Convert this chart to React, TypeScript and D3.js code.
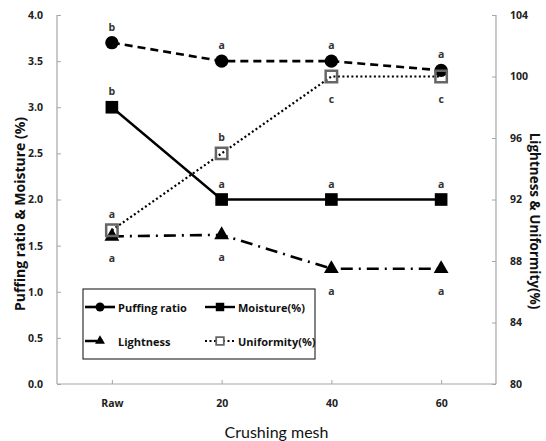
import React, { useEffect, useRef } from 'react';
import * as d3 from 'd3';

const categories = ['Raw', '20', '40', '60'];
const puffingRatio = [3.7, 3.5, 3.5, 3.4];
const moisture = [3.0, 2.0, 2.0, 2.0];
const lightness = [89.6, 89.7, 87.5, 87.5];
const uniformity = [90, 95, 100, 100];

const puffingLetters = ['b', 'a', 'a', 'a'];
const moistureLetters = ['b', 'a', 'a', 'a'];
const lightnessLetters = ['a', 'a', 'a', 'a'];
const uniformityLetters = ['a', 'b', 'c', 'c'];
const uniformityLetterSide = ['above', 'above', 'below', 'below'];

const leftTicks = [0, 0.5, 1.0, 1.5, 2.0, 2.5, 3.0, 3.5, 4.0];
const rightTicks = [80, 84, 88, 92, 96, 100, 104];

const FONT = 'Lato, "Open Sans", sans-serif';
const BOLD_FONT = '"Open Sans", Lato, sans-serif';

const App: React.FC = () => {
  const svgRef = useRef<SVGSVGElement>(null);

  useEffect(() => {
    if (!svgRef.current) return;
    const svg = d3.select(svgRef.current);
    svg.selectAll('*').remove();

    const margin = { top: 15, right: 50, bottom: 57, left: 57 };
    const width = 546;
    const height = 441;

    const x = d3.scalePoint<string>()
      .domain(categories)
      .range([margin.left, width - margin.right])
      .padding(0.5);
    const yL = d3.scaleLinear().domain([0, 4]).range([height - margin.bottom, margin.top]);
    const yR = d3.scaleLinear().domain([80, 104]).range([height - margin.bottom, margin.top]);

    const axisColor = '#a6a6a6';

    // Axes
    const left = svg.append('g')
      .attr('transform', `translate(${margin.left},0)`)
      .call(d3.axisLeft(yL).tickValues(leftTicks).tickSize(-4).tickPadding(14).tickFormat(d3.format('.1f')));
    const right = svg.append('g')
      .attr('transform', `translate(${width - margin.right},0)`)
      .call(d3.axisRight(yR).tickValues(rightTicks).tickSize(-4).tickPadding(14));
    const bottom = svg.append('g')
      .attr('transform', `translate(0,${height - margin.bottom})`)
      .call(d3.axisBottom(x).tickSize(-4).tickPadding(16));

    [left, right, bottom].forEach(g => {
      g.select('.domain').attr('stroke', axisColor).attr('stroke-width', 1.2);
      g.selectAll('.tick line').attr('stroke', axisColor);
      g.selectAll('text')
        .attr('fill', '#222')
        .style('font-family', BOLD_FONT)
        .style('font-size', '10.5px')
        .style('font-weight', 'bold');
    });
    bottom.select('.domain').attr('d', `M${margin.left},0H${width - margin.right}`);
    left.select('.domain').attr('d', `M0,${yL(4)}V${yL(0)}`);
    right.select('.domain').attr('d', `M0,${yR(104)}V${yR(80)}`);

    // Axis titles
    svg.append('text')
      .attr('transform', `translate(25,214) rotate(-90)`)
      .attr('text-anchor', 'middle')
      .style('font-family', BOLD_FONT)
      .style('font-size', '14px')
      .style('font-weight', 'bold')
      .attr('fill', '#111')
      .text('Puffing ratio & Moisture (%)');
    svg.append('text')
      .attr('transform', `translate(530,221) rotate(90)`)
      .attr('text-anchor', 'middle')
      .style('font-family', BOLD_FONT)
      .style('font-size', '13.5px')
      .style('font-weight', 'bold')
      .attr('fill', '#111')
      .text('Lightness & Uniformity(%)');
    svg.append('text')
      .attr('x', (margin.left + width - margin.right) / 2)
      .attr('y', 438)
      .attr('text-anchor', 'middle')
      .style('font-family', FONT)
      .style('font-size', '16px')
      .attr('fill', '#111')
      .text('Crushing mesh');

    const series = [
      { name: 'Puffing ratio', values: puffingRatio, y: yL, dash: '8,5', stroke: '#000', width: 2.6, symbol: d3.symbolCircle, size: 140, fill: '#000', mStroke: 'none' },
      { name: 'Moisture(%)', values: moisture, y: yL, dash: null, stroke: '#000', width: 2.4, symbol: d3.symbolSquare, size: 160, fill: '#000', mStroke: 'none' },
      { name: 'Lightness', values: lightness, y: yR, dash: '12,6,2,6', stroke: '#000', width: 2.6, symbol: d3.symbolTriangle, size: 95, fill: '#000', mStroke: 'none' },
      { name: 'Uniformity(%)', values: uniformity, y: yR, dash: '2,2.5', stroke: '#000', width: 2.2, symbol: d3.symbolSquare, size: 130, fill: 'none', mStroke: '#666' },
    ];

    const line = (ys: d3.ScaleLinear<number, number>) => d3.line<number>()
      .x((_, i) => x(categories[i]) as number)
      .y(d => ys(d));

    series.forEach(s => {
      svg.append('path')
        .datum(s.values)
        .attr('d', line(s.y))
        .attr('fill', 'none')
        .attr('stroke', s.stroke)
        .attr('stroke-width', s.width)
        .attr('stroke-dasharray', s.dash);
    });

    series.forEach(s => {
      svg.selectAll(null)
        .data(s.values)
        .enter()
        .append('path')
        .attr('transform', (d, i) => `translate(${x(categories[i])},${s.y(d)})`)
        .attr('d', d3.symbol().type(s.symbol).size(s.size)())
        .attr('fill', s.fill)
        .attr('stroke', s.mStroke)
        .attr('stroke-width', 2.5);
    });

    // Significance letters
    const letter = (vals: number[], ys: d3.ScaleLinear<number, number>, letters: string[], sides: string[]) => {
      svg.selectAll(null)
        .data(vals)
        .enter()
        .append('text')
        .attr('x', (_, i) => x(categories[i]) as number)
        .attr('y', (d, i) => ys(d) + (sides[i] === 'above' ? -12 : 26))
        .attr('text-anchor', 'middle')
        .style('font-family', BOLD_FONT)
        .style('font-size', '10.5px')
        .style('font-weight', 'bold')
        .attr('fill', '#333')
        .text((_, i) => letters[i]);
    };
    letter(puffingRatio, yL, puffingLetters, ['above', 'above', 'above', 'above']);
    letter(moisture, yL, moistureLetters, ['above', 'above', 'above', 'above']);
    letter(lightness, yR, lightnessLetters, ['below', 'below', 'below', 'below']);
    letter(uniformity, yR, uniformityLetters, uniformityLetterSide);

    // Legend
    const lg = svg.append('g').attr('transform', 'translate(83,289)');
    lg.append('rect')
      .attr('width', 232)
      .attr('height', 70)
      .attr('fill', '#fff')
      .attr('stroke', '#333')
      .attr('stroke-width', 1.2);
    const pos = [[2, 18], [122, 18], [2, 52], [122, 52]];
    series.forEach((s, i) => {
      const [lx, ly] = pos[i];
      const g = lg.append('g').attr('transform', `translate(${lx},${ly})`);
      g.append('line')
        .attr('x1', 0).attr('x2', 30)
        .attr('stroke', s.stroke)
        .attr('stroke-width', s.width)
        .attr('stroke-dasharray', i === 2 ? '12,4,2,30' : s.dash === '2,2.5' ? s.dash : null);
      g.append('path')
        .attr('transform', 'translate(15,0)')
        .attr('d', d3.symbol().type(s.symbol).size(s.size * 0.45)())
        .attr('fill', s.fill === 'none' ? '#fff' : s.fill)
        .attr('stroke', s.mStroke)
        .attr('stroke-width', 1.8);
      g.append('text')
        .attr('x', 33)
        .attr('y', 4.5)
        .style('font-family', BOLD_FONT)
        .style('font-size', '11px')
        .style('font-weight', 'bold')
        .attr('fill', '#111')
        .text(s.name);
    });
  }, []);

  return (
    <svg
      ref={svgRef}
      width={546}
      height={441}
      style={{ position: 'absolute', top: 0, left: 0, background: '#fff', display: 'block' }}
    />
  );
};

export default App;
